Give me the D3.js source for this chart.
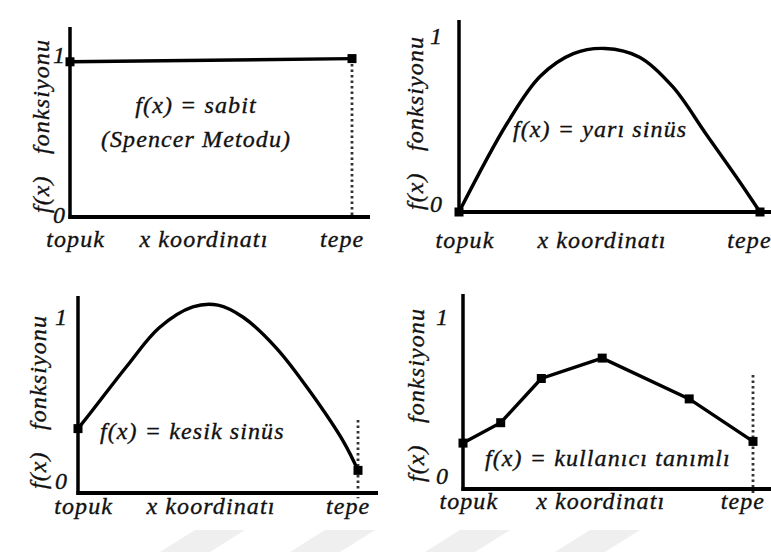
<!DOCTYPE html>
<html>
<head>
<meta charset="utf-8">
<script src="https://cdn.jsdelivr.net/npm/d3@7"></script>
<style>
  body { margin: 0; background: #fff; }
  svg text { font-style: italic; fill: #111; white-space: pre; }
</style>
</head>
<body>
<div id="chart"></div>
<script>
// axis texts
var xLabels = ["topuk", "x koordinatı", "tepe"];
var xLabelPos = [0.02, 0.475, 0.965];
var yTicks = [0, 1];
var yTitle = "f(x)   fonksiyonu";

// f(x) = sabit (Spencer Metodu)
var sabitX = [0, 1];
var sabitY = [0.97, 0.99];

// f(x) = yarı sinüs
var yariX = [0, 0.16, 0.27, 0.38, 0.485, 0.6, 0.71, 0.82, 0.93, 1];
var yariY = [0, 0.51, 0.78, 0.91, 0.94, 0.89, 0.72, 0.45, 0.18, 0];

// f(x) = kesik sinüs
var kesikX = [0, 0.054, 0.175, 0.29, 0.41, 0.5, 0.59, 0.71, 0.83, 0.95, 1];
var kesikY = [0.37, 0.48, 0.73, 0.95, 1.07, 1.08, 1.01, 0.83, 0.58, 0.29, 0.13];

// f(x) = kullanıcı tanımlı
var userX = [0, 0.13, 0.27, 0.48, 0.78, 1];
var userY = [0.27, 0.39, 0.65, 0.77, 0.53, 0.28];

var width = 771, height = 552;

var svg = d3.select("#chart").append("svg")
    .attr("width", width)
    .attr("height", height);

// faint watermark stripes at the bottom
var stripes = [160, 290, 425, 555];
svg.selectAll("polygon.wm")
    .data(stripes)
    .enter()
    .append("polygon")
    .attr("class", "wm")
    .attr("points", function(d){
      return [[d, 552], [d + 50, 552], [d + 85, 530], [d + 35, 530]].join(" ");
    })
    .attr("fill", "#efefef");

// panel layout: x range, end of x axis, top of y axis, y of 0 and 1, text spots
var panels = [
  {x0: 70, x1: 352, xEnd: 370, top: 27, y0: 217, y1: 57, tickX: 66, tick0dy: 6, titleX: 49, titleY: 213, labelY: 247,
   xs: sabitX, ys: sabitY, curve: d3.curveLinear, drop: [0.99, 0], markers: "ends",
   text: ["f(x) = sabit", "(Spencer Metodu)"], textX: 196, textY: [113, 147], anchor: "middle"},
  {x0: 459, x1: 760, xEnd: 771, top: 20, y0: 212, y1: 38, tickX: 443, tick0dy: 0, titleX: 423, titleY: 210, labelY: 248,
   xs: yariX, ys: yariY, curve: d3.curveCatmullRom, drop: null, markers: "ends",
   text: ["f(x) = yarı sinüs"], textX: 513, textY: [137], anchor: "start"},
  {x0: 78, x1: 358, xEnd: 378, top: 296, y0: 493, y1: 319, tickX: 68, tick0dy: -4, titleX: 46, titleY: 489, labelY: 514,
   xs: kesikX, ys: kesikY, curve: d3.curveCatmullRom, drop: [0.42, -0.03], markers: "ends",
   text: ["f(x) = kesik sinüs"], textX: 100, textY: [439], anchor: "start"},
  {x0: 463, x1: 753, xEnd: 771, top: 294, y0: 489, y1: 319, tickX: 449, tick0dy: -5, titleX: 424, titleY: 482, labelY: 509,
   xs: userX, ys: userY, curve: d3.curveLinear, drop: [0.67, -0.04], markers: "all",
   text: ["f(x) = kullanıcı tanımlı"], textX: 485, textY: [466], anchor: "start"}
];

function styleText(sel){
  sel.attr("font-family", "Liberation Serif")
    .attr("font-size", 24)
    .attr("letter-spacing", 1.1)
    .attr("stroke", "#111")
    .attr("stroke-width", 0.35);
}

panels.forEach(function(p){
  var x = d3.scaleLinear().domain([0, 1]).range([p.x0, p.x1]);
  var y = d3.scaleLinear().domain([0, 1]).range([p.y0, p.y1]);
  var g = svg.append("g");
  var pts = p.xs.map(function(v, i){ return [v, p.ys[i]]; });

  // dotted drop line at tepe
  if (p.drop){
    g.append("line")
      .attr("x1", x(1)).attr("x2", x(1))
      .attr("y1", y(p.drop[0])).attr("y2", y(p.drop[1]))
      .attr("stroke", "#333")
      .attr("stroke-width", 2.8)
      .attr("stroke-dasharray", "2.5,3");
  }

  // axes
  g.append("line")
    .attr("x1", p.x0).attr("x2", p.x0)
    .attr("y1", p.top).attr("y2", p.y0 + 2)
    .attr("stroke", "#000").attr("stroke-width", 3.5);
  g.append("line")
    .attr("x1", p.x0 - 1.5).attr("x2", p.xEnd)
    .attr("y1", p.y0).attr("y2", p.y0)
    .attr("stroke", "#000").attr("stroke-width", 4);

  // the function curve
  var line = d3.line()
    .x(function(d){ return x(d[0]); })
    .y(function(d){ return y(d[1]); })
    .curve(p.curve);
  g.append("path")
    .datum(pts)
    .attr("d", line)
    .attr("fill", "none")
    .attr("stroke", "#000")
    .attr("stroke-width", 3.4);

  var marks = p.markers == "all" ? pts : [pts[0], pts[pts.length - 1]];
  g.selectAll("rect.mark")
    .data(marks)
    .enter()
    .append("rect")
    .attr("class", "mark")
    .attr("x", function(d){ return x(d[0]) - 4.5; })
    .attr("y", function(d){ return y(d[1]) - 4.5; })
    .attr("width", 9)
    .attr("height", 9)
    .attr("fill", "#000");

  // tick labels 0 / 1
  g.selectAll("text.tick")
    .data(yTicks)
    .enter()
    .append("text")
    .attr("class", "tick")
    .attr("x", p.tickX)
    .attr("y", function(d){ return y(d) + (d == 0 ? p.tick0dy : 6); })
    .attr("text-anchor", "end")
    .call(styleText)
    .text(function(d){ return d; });

  // rotated y title
  g.append("text")
    .attr("transform", "translate(" + p.titleX + "," + p.titleY + ") rotate(-90)")
    .attr("text-anchor", "start")
    .call(styleText)
    .text(yTitle);

  // x labels
  g.selectAll("text.xl")
    .data(xLabels)
    .enter()
    .append("text")
    .attr("class", "xl")
    .attr("x", function(d, i){ return x(xLabelPos[i]); })
    .attr("y", p.labelY)
    .attr("text-anchor", "middle")
    .call(styleText)
    .text(function(d){ return d; });

  // function name inside the panel
  g.selectAll("text.fn")
    .data(p.text)
    .enter()
    .append("text")
    .attr("class", "fn")
    .attr("x", p.textX)
    .attr("y", function(d, i){ return p.textY[i]; })
    .attr("text-anchor", p.anchor)
    .call(styleText)
    .text(function(d){ return d; });
});
</script>
</body>
</html>
